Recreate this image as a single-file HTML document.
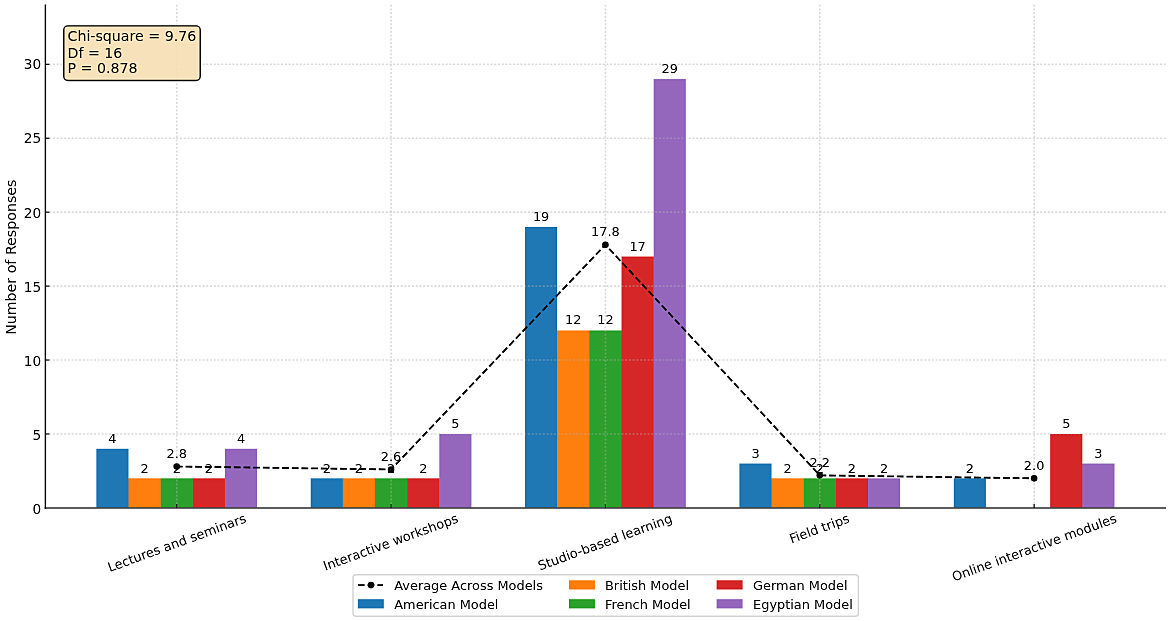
<!DOCTYPE html>
<html lang="en"><head><meta charset="utf-8"><title>Teaching methods by model</title>
<style>
html,body{margin:0;padding:0;background:#fff}
body{width:1170px;height:621px;overflow:hidden}
svg{display:block}
text{font-family:"DejaVu Sans","Liberation Sans",sans-serif;fill:#111}
.s{font-size:12.9px}
.l{font-size:14.2px}
.g{stroke:#b0b0b0;stroke-opacity:0.38;stroke-width:1.6;stroke-dasharray:2.1 1.64;fill:none}
.ax{stroke:#222;stroke-width:1.5;fill:none}
.tk{stroke:#222;stroke-width:1.2}
</style></head><body>
<svg width="1170" height="621" viewBox="0 0 1170 621">
<defs><filter id="usm" x="0" y="0" width="1170" height="621" filterUnits="userSpaceOnUse" color-interpolation-filters="sRGB"><feGaussianBlur in="SourceGraphic" stdDeviation="1.2" result="b"/><feComposite in="SourceGraphic" in2="b" operator="arithmetic" k1="0" k2="1.5" k3="-0.5" k4="0"/></filter></defs>
<g filter="url(#usm)">
<rect width="1170" height="621" fill="#fff"/>
<rect x="96.35" y="448.75" width="32.15" height="59.15" fill="#1f77b4"/>
<rect x="128.00" y="478.63" width="1" height="29.27" fill="#1f77b4"/>
<rect x="128.50" y="478.33" width="32.15" height="29.57" fill="#ff7f0e"/>
<rect x="160.16" y="478.63" width="1" height="29.27" fill="#ff7f0e"/>
<rect x="160.66" y="478.33" width="32.15" height="29.57" fill="#2ca02c"/>
<rect x="192.31" y="478.63" width="1" height="29.27" fill="#2ca02c"/>
<rect x="192.81" y="478.33" width="32.15" height="29.57" fill="#d62728"/>
<rect x="224.46" y="478.63" width="1" height="29.27" fill="#d62728"/>
<rect x="224.96" y="448.75" width="32.15" height="59.15" fill="#9467bd"/>
<rect x="310.70" y="478.33" width="32.15" height="29.57" fill="#1f77b4"/>
<rect x="342.35" y="478.63" width="1" height="29.27" fill="#1f77b4"/>
<rect x="342.85" y="478.33" width="32.15" height="29.57" fill="#ff7f0e"/>
<rect x="374.50" y="478.63" width="1" height="29.27" fill="#ff7f0e"/>
<rect x="375.00" y="478.33" width="32.15" height="29.57" fill="#2ca02c"/>
<rect x="406.66" y="478.63" width="1" height="29.27" fill="#2ca02c"/>
<rect x="407.16" y="478.33" width="32.15" height="29.57" fill="#d62728"/>
<rect x="438.81" y="478.63" width="1" height="29.27" fill="#d62728"/>
<rect x="439.31" y="433.97" width="32.15" height="73.93" fill="#9467bd"/>
<rect x="525.05" y="226.95" width="32.15" height="280.95" fill="#1f77b4"/>
<rect x="556.70" y="330.76" width="1" height="177.14" fill="#1f77b4"/>
<rect x="557.20" y="330.46" width="32.15" height="177.44" fill="#ff7f0e"/>
<rect x="588.86" y="330.76" width="1" height="177.14" fill="#ff7f0e"/>
<rect x="589.36" y="330.46" width="32.15" height="177.44" fill="#2ca02c"/>
<rect x="621.01" y="330.76" width="1" height="177.14" fill="#2ca02c"/>
<rect x="621.51" y="256.53" width="32.15" height="251.37" fill="#d62728"/>
<rect x="653.16" y="256.83" width="1" height="251.07" fill="#d62728"/>
<rect x="653.66" y="79.09" width="32.15" height="428.81" fill="#9467bd"/>
<rect x="739.40" y="463.54" width="32.15" height="44.36" fill="#1f77b4"/>
<rect x="771.05" y="478.63" width="1" height="29.27" fill="#1f77b4"/>
<rect x="771.55" y="478.33" width="32.15" height="29.57" fill="#ff7f0e"/>
<rect x="803.21" y="478.63" width="1" height="29.27" fill="#ff7f0e"/>
<rect x="803.71" y="478.33" width="32.15" height="29.57" fill="#2ca02c"/>
<rect x="835.36" y="478.63" width="1" height="29.27" fill="#2ca02c"/>
<rect x="835.86" y="478.33" width="32.15" height="29.57" fill="#d62728"/>
<rect x="867.51" y="478.63" width="1" height="29.27" fill="#d62728"/>
<rect x="868.01" y="478.33" width="32.15" height="29.57" fill="#9467bd"/>
<rect x="953.75" y="478.33" width="32.15" height="29.57" fill="#1f77b4"/>
<rect x="1050.21" y="433.97" width="32.15" height="73.93" fill="#d62728"/>
<rect x="1081.86" y="463.84" width="1" height="44.06" fill="#d62728"/>
<rect x="1082.36" y="463.54" width="32.15" height="44.36" fill="#9467bd"/>
<line class="g" x1="45.4" x2="1166.0" y1="433.97" y2="433.97"/>
<line class="g" x1="45.4" x2="1166.0" y1="360.03" y2="360.03"/>
<line class="g" x1="45.4" x2="1166.0" y1="286.10" y2="286.10"/>
<line class="g" x1="45.4" x2="1166.0" y1="212.17" y2="212.17"/>
<line class="g" x1="45.4" x2="1166.0" y1="138.23" y2="138.23"/>
<line class="g" x1="45.4" x2="1166.0" y1="64.30" y2="64.30"/>
<line class="g" x1="176.73" x2="176.73" y1="507.9" y2="4.5"/>
<line class="g" x1="391.08" x2="391.08" y1="507.9" y2="4.5"/>
<line class="g" x1="605.43" x2="605.43" y1="507.9" y2="4.5"/>
<line class="g" x1="819.78" x2="819.78" y1="507.9" y2="4.5"/>
<line class="g" x1="1034.13" x2="1034.13" y1="507.9" y2="4.5"/>
<polyline points="176.73,466.50 391.08,469.45 605.43,244.70 819.78,475.37 1034.13,478.33" fill="none" stroke="#000" stroke-width="1.85" stroke-dasharray="6.72 2.94" stroke-dashoffset="0.8" stroke-linejoin="round"/>
<circle cx="176.73" cy="466.50" r="3.3" fill="#000"/>
<circle cx="391.08" cy="469.45" r="3.3" fill="#000"/>
<circle cx="605.43" cy="244.70" r="3.3" fill="#000"/>
<circle cx="819.78" cy="475.37" r="3.3" fill="#000"/>
<circle cx="1034.13" cy="478.33" r="3.3" fill="#000"/>
<path class="ax" d="M44.65 507.9H1166.0" style="stroke:#484848"/>
<path class="ax" d="M45.4 4.5V508.65"/>
<text class="l" style="font-size:14.8px" transform="translate(41.1,513.75) scale(0.925,1)" text-anchor="end">0</text>
<line class="tk" x1="45.4" x2="49.4" y1="433.97" y2="433.97"/>
<text class="l" style="font-size:14.8px" transform="translate(41.1,439.72) scale(0.925,1)" text-anchor="end">5</text>
<line class="tk" x1="45.4" x2="49.4" y1="360.03" y2="360.03"/>
<text class="l" style="font-size:14.8px" transform="translate(41.1,366.08) scale(0.925,1)" text-anchor="end">10</text>
<line class="tk" x1="45.4" x2="49.4" y1="286.10" y2="286.10"/>
<text class="l" style="font-size:14.8px" transform="translate(41.1,291.55) scale(0.925,1)" text-anchor="end">15</text>
<line class="tk" x1="45.4" x2="49.4" y1="212.17" y2="212.17"/>
<text class="l" style="font-size:14.8px" transform="translate(41.1,217.62) scale(0.925,1)" text-anchor="end">20</text>
<line class="tk" x1="45.4" x2="49.4" y1="138.23" y2="138.23"/>
<text class="l" style="font-size:14.8px" transform="translate(41.1,143.08) scale(0.925,1)" text-anchor="end">25</text>
<line class="tk" x1="45.4" x2="49.4" y1="64.30" y2="64.30"/>
<text class="l" style="font-size:14.8px" transform="translate(41.1,69.25) scale(0.925,1)" text-anchor="end">30</text>
<line class="tk" x1="176.73" x2="176.73" y1="507.9" y2="503.9"/>
<line class="tk" x1="391.08" x2="391.08" y1="507.9" y2="503.9"/>
<line class="tk" x1="605.43" x2="605.43" y1="507.9" y2="503.9"/>
<line class="tk" x1="819.78" x2="819.78" y1="507.9" y2="503.9"/>
<line class="tk" x1="1034.13" x2="1034.13" y1="507.9" y2="503.9"/>
<text class="s" x="112.43" y="442.75" text-anchor="middle">4</text>
<text class="s" x="326.78" y="472.63" text-anchor="middle">2</text>
<text class="s" x="541.13" y="220.95" text-anchor="middle">19</text>
<text class="s" x="755.48" y="457.94" text-anchor="middle">3</text>
<text class="s" x="969.83" y="472.63" text-anchor="middle">2</text>
<text class="s" x="144.58" y="472.63" text-anchor="middle">2</text>
<text class="s" x="358.93" y="472.63" text-anchor="middle">2</text>
<text class="s" x="573.28" y="324.46" text-anchor="middle">12</text>
<text class="s" x="787.63" y="472.63" text-anchor="middle">2</text>
<text class="s" x="176.73" y="472.63" text-anchor="middle">2</text>
<text class="s" x="391.08" y="472.63" text-anchor="middle">2</text>
<text class="s" x="605.43" y="324.46" text-anchor="middle">12</text>
<text class="s" x="819.78" y="472.63" text-anchor="middle">2</text>
<text class="s" x="208.88" y="472.63" text-anchor="middle">2</text>
<text class="s" x="423.23" y="472.63" text-anchor="middle">2</text>
<text class="s" x="637.58" y="250.93" text-anchor="middle">17</text>
<text class="s" x="851.93" y="472.63" text-anchor="middle">2</text>
<text class="s" x="1066.28" y="427.97" text-anchor="middle">5</text>
<text class="s" x="241.04" y="442.75" text-anchor="middle">4</text>
<text class="s" x="455.39" y="427.97" text-anchor="middle">5</text>
<text class="s" x="669.74" y="73.09" text-anchor="middle">29</text>
<text class="s" x="884.09" y="472.63" text-anchor="middle">2</text>
<text class="s" x="1098.44" y="457.94" text-anchor="middle">3</text>
<text class="s" x="176.73" y="458.20" text-anchor="middle" fill="#000">2.8</text>
<text class="s" x="391.08" y="461.15" text-anchor="middle" fill="#000">2.6</text>
<text class="s" x="605.43" y="236.40" text-anchor="middle" fill="#000">17.8</text>
<text class="s" x="819.78" y="467.07" text-anchor="middle" fill="#000">2.2</text>
<text class="s" x="1034.13" y="470.03" text-anchor="middle" fill="#000">2.0</text>
<text class="s" transform="translate(109.68,572.04) rotate(-20)">Lectures and seminars</text>
<text class="s" transform="translate(325.34,570.75) rotate(-20)">Interactive workshops</text>
<text class="s" transform="translate(540.10,570.46) rotate(-20)">Studio-based learning</text>
<text class="s" transform="translate(791.53,543.47) rotate(-20)">Field trips</text>
<text class="s" transform="translate(953.99,581.57) rotate(-20)">Online interactive modules</text>
<text class="l" transform="translate(15.5,257.2) rotate(-90)" text-anchor="middle">Number of Responses</text>
<rect x="63.8" y="25.85" width="136.4" height="54.6" rx="4" ry="4" fill="#f5deb3" fill-opacity="0.9" stroke="#1a1a1a" stroke-width="1.35"/>
<text class="l" x="67.5" y="41.2">Chi-square = 9.76</text>
<text class="l" x="67.5" y="57.5">Df = 16</text>
<text class="l" x="67.5" y="73.4">P = 0.878</text>
<rect x="353" y="574.8" width="505.4" height="41.4" rx="3" ry="3" fill="#fff" fill-opacity="0.8" stroke="#d9d9d9" stroke-width="1.5"/>
<line x1="358" x2="383" y1="585.1" y2="585.1" stroke="#000" stroke-width="1.8" stroke-dasharray="6.6 3.1"/>
<circle cx="371" cy="585.1" r="3.3" fill="#000"/>
<text class="s" x="394.3" y="589.7">Average Across Models</text>
<rect x="357.8" y="599.2" width="26" height="9.2" fill="#1f77b4"/>
<text class="s" x="394.3" y="608.6">American Model</text>
<rect x="568.9" y="580.3" width="26" height="9.2" fill="#ff7f0e"/>
<text class="s" x="605.0" y="589.7">British Model</text>
<rect x="568.9" y="599.2" width="26" height="9.2" fill="#2ca02c"/>
<text class="s" x="605.0" y="608.6">French Model</text>
<rect x="716.6" y="580.3" width="26" height="9.2" fill="#d62728"/>
<text class="s" x="753.1" y="589.7">German Model</text>
<rect x="716.6" y="599.2" width="26" height="9.2" fill="#9467bd"/>
<text class="s" x="753.1" y="608.6">Egyptian Model</text>
</g></svg></body></html>
